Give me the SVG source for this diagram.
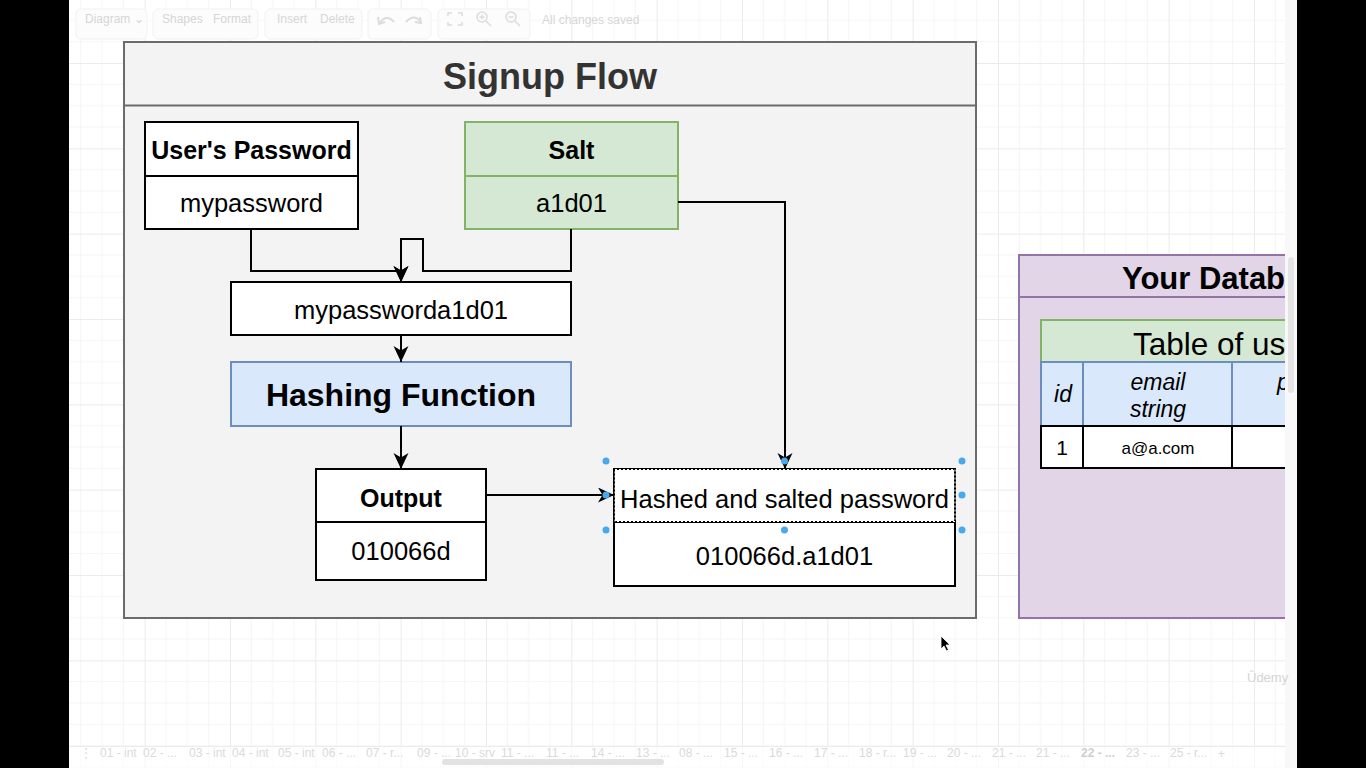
<svg xmlns="http://www.w3.org/2000/svg" width="1366" height="768" viewBox="0 0 1366 768">
<defs>
<style>
.ui{font-family:"Liberation Sans",Arial,sans-serif;font-size:12px;fill:#d6d6d6}
.tab{font-family:"Liberation Sans",Arial,sans-serif;font-size:12px;fill:#dadada}
.t{font-family:"Liberation Sans",Arial,sans-serif;fill:#000;text-anchor:middle}
.b{font-weight:bold}
.i{font-style:italic}
.node{stroke:#000;stroke-width:2;fill:#fff}
.green{fill:#d5e8d4;stroke:#82b366;stroke-width:2}
.blue{fill:#dae8fc;stroke:#6c8ebf;stroke-width:2}
.edge{fill:none;stroke:#000;stroke-width:2}
.h{fill:#4aa8ec}
.btn{fill:#fcfcfc;stroke:#f1f1f1;stroke-width:1}
</style>
<pattern id="grid" patternUnits="userSpaceOnUse" x="59.33" y="63" width="85.33" height="85.33">
<path d="M21.33 0V85.33M42.67 0V85.33M64 0V85.33M0 21.33H85.33M0 42.67H85.33M0 64H85.33" stroke="#f5f5f5" stroke-width="1" fill="none"/>
<path d="M0.5 0V85.33M0 0.5H85.33" stroke="#ebebeb" stroke-width="1" fill="none"/>
</pattern>
<marker id="arr" markerUnits="userSpaceOnUse" markerWidth="18" markerHeight="18" refX="16" refY="7.5" orient="auto">
<path d="M0,0 L16,7.5 L0,15 L4.5,7.5 Z" fill="#000"/>
</marker>
<clipPath id="dbclip"><rect x="1000" y="240" width="285" height="400"/></clipPath>
</defs>

<!-- canvas -->
<rect x="0" y="0" width="1366" height="768" fill="#000"/>
<rect x="69" y="0" width="1228" height="768" fill="#fff"/>
<rect x="69" y="0" width="1216" height="768" fill="url(#grid)"/>

<!-- toolbar -->
<g id="toolbar">
<rect class="btn" x="76" y="9" width="71" height="30" rx="5"/>
<rect class="btn" x="153" y="9" width="105" height="30" rx="5"/>
<rect class="btn" x="265" y="9" width="97" height="30" rx="5"/>
<rect class="btn" x="368" y="9" width="63" height="30" rx="5"/>
<rect class="btn" x="438" y="9" width="92" height="30" rx="5"/>
<text class="ui" x="85" y="23">Diagram ⌄</text>
<text class="ui" x="162" y="23">Shapes</text>
<text class="ui" x="213" y="23">Format</text>
<text class="ui" x="277" y="23">Insert</text>
<text class="ui" x="320" y="23">Delete</text>
<path d="M379 24 Q386 13 394 22 M378 17 L379 24 L385 22" fill="none" stroke="#dcdcdc" stroke-width="2"/>
<path d="M421 22 Q414 13 406 22 M420 17 L421 23 L415 22" fill="none" stroke="#dcdcdc" stroke-width="2"/>
<path d="M448 16V13H452M458 13H462V16M462 22V25H458M452 25H448V22" fill="none" stroke="#dcdcdc" stroke-width="1.5"/>
<circle cx="482" cy="17" r="5" fill="none" stroke="#dcdcdc" stroke-width="1.5"/>
<path d="M486 21L491 26M479.5 17H484.5M482 14.5V19.5" stroke="#dcdcdc" stroke-width="1.5"/>
<circle cx="511" cy="17" r="5" fill="none" stroke="#dcdcdc" stroke-width="1.5"/>
<path d="M515 21L520 26M508.5 17H513.5" stroke="#dcdcdc" stroke-width="1.5"/>
<text class="ui" x="542" y="24">All changes saved</text>
</g>

<!-- Signup Flow container -->
<g id="signup-flow">
<rect x="124" y="42" width="852" height="576" fill="#f3f3f3" stroke="#6b6b6b" stroke-width="2"/>
<line x1="124" y1="105.5" x2="976" y2="105.5" stroke="#6b6b6b" stroke-width="2"/>
<text class="t b" x="550" y="89" font-size="36" style="fill:#333">Signup Flow</text>
</g>

<g id="users-password">
<rect class="node" x="145" y="122" width="213" height="107"/>
<line x1="145" y1="176" x2="358" y2="176" stroke="#000" stroke-width="2"/>
<text class="t b" x="251.5" y="159" font-size="25">User's Password</text>
<text class="t" x="251.5" y="212" font-size="25.5">mypassword</text>
</g>

<g id="salt">
<rect class="green" x="465" y="122" width="213" height="107"/>
<line x1="465" y1="176" x2="678" y2="176" stroke="#82b366" stroke-width="2"/>
<text class="t b" x="571.5" y="159" font-size="25">Salt</text>
<text class="t" x="571.5" y="212" font-size="25.5">a1d01</text>
</g>

<g id="combined">
<rect class="node" x="231" y="282" width="340" height="53"/>
<text class="t" x="401" y="319" font-size="25.5">mypassworda1d01</text>
</g>

<g id="hashing-function">
<rect class="blue" x="231" y="362" width="340" height="64"/>
<text class="t b" x="401" y="406" font-size="32">Hashing Function</text>
</g>

<g id="output">
<rect class="node" x="316" y="469" width="170" height="111"/>
<line x1="316" y1="522" x2="486" y2="522" stroke="#000" stroke-width="2"/>
<text class="t b" x="401" y="507" font-size="25">Output</text>
<text class="t" x="401" y="560" font-size="25.5">010066d</text>
</g>

<g id="hashed-salted">
<rect class="node" x="614" y="469" width="341" height="117"/>
<line x1="614" y1="522" x2="955" y2="522" stroke="#000" stroke-width="2"/>
<rect x="615" y="469.5" width="340" height="52" fill="none" stroke="#fff" stroke-width="1" stroke-dasharray="2 2"/>
<text class="t" x="784.5" y="508" font-size="25.5">Hashed and salted password</text>
<text class="t" x="784.5" y="565" font-size="25.5">010066d.a1d01</text>
</g>

<!-- connectors -->
<g id="connectors">
<path class="edge" d="M251 229V271H401V282" marker-end="url(#arr)"/>
<path class="edge" d="M571 229V271H423V239H401V282" marker-end="url(#arr)"/>
<path class="edge" d="M401 335V362" marker-end="url(#arr)"/>
<path class="edge" d="M401 426V469" marker-end="url(#arr)"/>
<path class="edge" d="M486 495H614" marker-end="url(#arr)"/>
<path class="edge" d="M678 202H785V469" marker-end="url(#arr)"/>
</g>

<!-- selection handles -->
<g id="selection">
<circle class="h" cx="606" cy="461" r="3.5"/>
<circle class="h" cx="784.5" cy="461" r="3.5"/>
<circle class="h" cx="962" cy="461" r="3.5"/>
<circle class="h" cx="606" cy="495" r="3.5"/>
<circle class="h" cx="962" cy="495" r="3.5"/>
<circle class="h" cx="606" cy="530" r="3.5"/>
<circle class="h" cx="784.5" cy="530" r="3.5"/>
<circle class="h" cx="962" cy="530" r="3.5"/>
</g>

<!-- Database container (cut off at the window edge) -->
<g id="your-database">
<g clip-path="url(#dbclip)">
<rect x="1019" y="255" width="320" height="363" fill="#e1d5e7" stroke="#9673a6" stroke-width="2"/>
<line x1="1019" y1="297" x2="1339" y2="297" stroke="#9673a6" stroke-width="2"/>
</g>
<text class="t b" x="1122" y="289" font-size="31" style="text-anchor:start">Your Datab</text>
<g id="table-of-users">
<g clip-path="url(#dbclip)">
<rect x="1041" y="320" width="300" height="42" fill="#d5e8d4" stroke="#82b366" stroke-width="2"/>
<rect x="1041" y="362" width="300" height="64" fill="#dae8fc" stroke="#6c8ebf" stroke-width="2"/>
<line x1="1083" y1="362" x2="1083" y2="426" stroke="#6c8ebf" stroke-width="2"/>
<line x1="1232" y1="362" x2="1232" y2="426" stroke="#6c8ebf" stroke-width="2"/>
<rect x="1041" y="426" width="300" height="42" fill="#fff" stroke="#000" stroke-width="2"/>
<line x1="1083" y1="426" x2="1083" y2="468" stroke="#000" stroke-width="2"/>
<line x1="1232" y1="426" x2="1232" y2="468" stroke="#000" stroke-width="2"/>
</g>
<text class="t" x="1133" y="355" font-size="31.5" style="text-anchor:start">Table of us</text>
<text class="t i" x="1063" y="402" font-size="23">id</text>
<text class="t i" x="1158" y="390" font-size="23">email</text>
<text class="t i" x="1158" y="417" font-size="23">string</text>
<text class="t i" x="1277" y="390" font-size="23" style="text-anchor:start">p</text>
<text class="t" x="1062" y="455" font-size="21">1</text>
<text class="t" x="1158" y="454" font-size="17">a@a.com</text>
</g>
</g>

<!-- right scrollbar strip -->
<rect x="1285" y="0" width="12" height="768" fill="#f8f8f8"/>
<rect x="1288" y="257" width="6" height="136" rx="3" fill="#e4e4e4"/>

<!-- cursor -->
<path d="M941 636 L941 649 L944 646 L946.5 651 L948.5 650 L946 645 L950 645 Z" fill="#000" stroke="#fff" stroke-width="0.8"/>

<!-- watermark -->
<text x="1247" y="682" font-family="Liberation Sans, Arial, sans-serif" font-size="13" fill="#d4d4d4">Ûdemy</text>

<!-- bottom page tabs -->
<g id="page-tabs">
<rect x="69" y="746" width="1216" height="22" fill="#fff" fill-opacity="0.6"/>
<line x1="69" y1="746.5" x2="1285" y2="746.5" stroke="#ececec"/>
<text class="tab" x="80" y="757">⋮</text>
<text class="tab" x="100" y="757">01 - int</text>
<text class="tab" x="143" y="757">02 - ...</text>
<text class="tab" x="189" y="757">03 - int</text>
<text class="tab" x="232" y="757">04 - int</text>
<text class="tab" x="278" y="757">05 - int</text>
<text class="tab" x="322" y="757">06 - ...</text>
<text class="tab" x="366" y="757">07 - r...</text>
<text class="tab" x="417" y="757">09 - ...</text>
<text class="tab" x="455" y="757">10 - srv</text>
<text class="tab" x="501" y="757">11 - ...</text>
<text class="tab" x="546" y="757">11 - ...</text>
<text class="tab" x="591" y="757">14 - ...</text>
<text class="tab" x="636" y="757">13 - ...</text>
<text class="tab" x="679" y="757">08 - ...</text>
<text class="tab" x="724" y="757">15 - ...</text>
<text class="tab" x="769" y="757">16 - ...</text>
<text class="tab" x="814" y="757">17 - ...</text>
<text class="tab" x="859" y="757">18 - r...</text>
<text class="tab" x="903" y="757">19 - ...</text>
<text class="tab" x="947" y="757">20 - ...</text>
<text class="tab" x="992" y="757">21 - ...</text>
<text class="tab" x="1036" y="757">21 - ...</text>
<text class="tab" x="1081" y="757" font-weight="bold" style="fill:#cfcfcf">22 - ...</text>
<text class="tab" x="1126" y="757">23 - ...</text>
<text class="tab" x="1170" y="757">25 - r...</text>
<text class="tab" x="1218" y="758" font-size="18">+</text>
<rect x="442" y="759" width="222" height="6" rx="3" fill="#e2e2e2"/>
</g>
</svg>
